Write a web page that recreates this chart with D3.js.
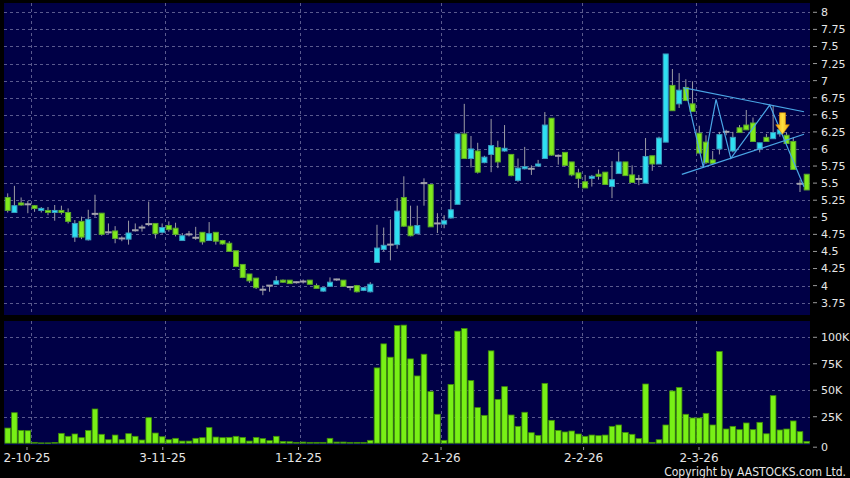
<!DOCTYPE html>
<html><head><meta charset="utf-8">
<script src="https://cdn.jsdelivr.net/npm/d3@7/dist/d3.min.js"></script>
<style>html,body{margin:0;padding:0;background:#000;}svg{display:block;}</style>
</head><body>
<svg id="c" width="850" height="478"></svg>
<script>
// ---- data ----
const openP  = [5.29,5.07,5.21,5.19,5.17,5.10,5.10,5.07,5.10,5.07, 4.71,4.94,4.67,5.05,5.06,4.78,4.80,4.69,4.68,4.81, 4.85,4.90,4.91,4.78,4.88,4.84,4.66,4.75,4.70,4.78, 4.66,4.78,4.66,4.62,4.51,4.31,4.17,4.11,3.94,4.00, 4.02,4.08,4.08,4.05,4.06,4.08,4.00,3.92,3.99,4.09, 4.08,3.98,4.00,3.93,3.91,4.34,4.53,4.60,4.60,5.29, 4.87,4.76,5.50,5.48,4.91,4.90,4.99,5.19,6.22,5.86, 5.97,5.80,5.92,6.02,5.97,5.92,5.54,5.71,5.71,5.75, 5.86,6.45,5.90,5.95,5.81,5.65,5.52,5.57,5.63,5.66, 5.45,5.64,5.81,5.62,5.56,5.50,5.90,5.78,6.10,6.93, 6.66,6.90,6.66,6.23,6.10,5.84,6.00,6.25,5.97,6.31, 6.35,6.38,6.00,6.17,6.15,6.22,6.20,6.11,5.49,5.63];
const highP  = [5.35,5.46,5.29,5.24,5.18,5.15,5.15,5.18,5.17,5.13, 4.96,5.01,5.11,5.33,5.06,4.91,4.87,4.72,4.95,4.91, 4.89,5.23,4.91,4.91,4.94,4.92,4.77,4.80,4.86,4.78, 4.93,4.78,4.67,4.65,4.51,4.31,4.17,4.11,4.00,4.00, 4.14,4.09,4.08,4.06,4.09,4.08,4.03,3.98,4.12,4.10, 4.08,3.99,4.01,3.98,4.05,4.89,4.85,4.97,5.28,5.60, 5.17,5.17,5.57,5.48,5.06,5.03,5.40,6.22,6.66,6.19, 6.09,5.90,6.44,6.12,6.35,5.92,5.86,6.03,5.76,5.84, 6.54,6.45,5.92,5.95,5.81,5.71,5.62,5.62,5.70,5.66, 5.82,5.96,5.81,5.76,5.62,6.16,5.90,6.18,7.39,7.17, 7.11,7.02,6.99,6.34,6.20,5.97,6.25,6.28,6.25,6.35, 6.57,6.46,6.09,6.22,6.64,6.30,6.24,6.17,5.55,5.63];
const lowP   = [5.07,5.07,5.17,5.06,5.08,5.07,5.03,4.95,5.04,4.91, 4.64,4.68,4.66,5.01,4.73,4.76,4.62,4.65,4.60,4.79, 4.79,4.87,4.69,4.76,4.79,4.72,4.66,4.72,4.67,4.60, 4.66,4.60,4.60,4.50,4.27,4.11,4.04,3.95,3.86,3.91, 4.02,4.04,4.03,4.03,4.03,4.02,3.96,3.91,3.98,4.07, 3.98,3.93,3.90,3.92,3.90,4.34,4.50,4.37,4.54,4.86, 4.72,4.75,5.17,4.86,4.77,4.84,4.98,5.19,5.86,5.73, 5.64,5.79,5.66,5.72,5.96,5.60,5.52,5.70,5.62,5.74, 5.86,5.90,5.77,5.74,5.60,5.43,5.43,5.45,5.55,5.48, 5.28,5.64,5.61,5.51,5.47,5.50,5.68,5.78,6.10,6.56, 6.60,6.70,6.55,5.94,5.78,5.77,5.92,6.20,5.95,6.24, 6.28,6.11,5.95,6.11,6.15,6.18,6.08,5.70,5.37,5.40];
const closeP = [5.10,5.17,5.18,5.19,5.13,5.13,5.07,5.10,5.07,4.94, 4.91,4.71,4.97,5.05,4.75,4.78,4.69,4.69,4.77,4.81, 4.85,4.90,4.76,4.85,4.82,4.75,4.73,4.75,4.70,4.64, 4.76,4.65,4.61,4.50,4.28,4.12,4.07,3.97,3.94,4.00, 4.07,4.05,4.03,4.05,4.06,4.02,3.96,3.97,4.05,4.09, 3.99,3.98,3.91,3.97,4.02,4.55,4.59,4.60,5.09,4.87, 4.73,4.88,5.50,4.86,4.91,4.95,5.11,6.22,5.86,6.00, 5.66,5.88,6.05,5.81,6.01,5.61,5.72,5.74,5.71,5.78, 6.35,5.91,5.90,5.76,5.62,5.57,5.43,5.60,5.60,5.48, 5.55,5.81,5.61,5.51,5.56,5.89,5.78,6.16,7.39,6.56, 6.86,6.71,6.55,5.94,5.80,5.79,6.21,6.25,6.17,6.24, 6.28,6.11,6.09,6.11,6.24,6.28,6.08,5.70,5.49,5.40];
const volumeK = [14.3,28.8,12.1,11.8,0.8,0.3,0.3,0.6,9.3,6.5, 8.7,5.2,12.1,32.3,8.4,3.3,7.7,3.3,9.0,6.5, 3.0,24.1,9.6,6.1,3.3,4.6,2.0,2.0,4.6,5.2, 14.7,5.8,5.2,5.5,6.5,5.5,2.0,5.5,4.3,2.4, 6.5,1.7,1.4,0.8,1.1,0.8,0.8,0.8,4.6,1.1, 1.1,0.8,0.8,0.8,2.7,71.1,93.8,81.2,111.2,111.5, 79.6,63.5,84.0,48.7,27.3,2.7,55.5,105.8,108.3,59.1, 33.6,26.3,87.2,41.4,53.4,26.6,15.9,29.2,9.9,7.4, 56.5,21.6,12.1,10.6,11.5,8.7,6.5,7.7,7.1,7.7, 15.9,17.2,10.2,8.4,4.3,55.9,0.8,3.3,17.2,49.3, 52.7,27.3,23.8,23.8,28.2,17.2,86.6,13.4,15.9,12.8, 19.1,12.8,19.7,8.9,44.9,12.5,13.4,21.0,10.9,1.7];

const dateTickIdx    = [4, 24, 44, 65, 86, 103];
const dateTickLabels = ["2-10-25","3-11-25","1-12-25","2-1-26","2-2-26","2-3-26"];
const priceTicks  = [3.75,4,4.25,4.5,4.75,5,5.25,5.5,5.75,6,6.25,6.5,6.75,7,7.25,7.5,7.75,8];
const volumeTicks = [0,25,50,75,100];

// drawn annotations (index, price)
const upperTrend = [[100.6,6.897],[118.6,6.545]];
const lowerTrend = [[100.4,5.629],[118.6,6.215]];
const zigzag     = [[100.9,6.888],[103.6,5.732],[105.5,6.727],[107.7,5.863],[113.5,6.643],[118.6,5.448]];
const arrowAt    = [115.4, 6.215];

// ---- layout ----
const svg = d3.select("#c");
const plotL = 4, plotR = 810;
const priceTop = 3, priceBot = 315, volTop = 321, volBot = 445;
const n = closeP.length;

const x  = d3.scaleLinear().domain([0, n-1]).range([7.7, 806.7]);
const xl = d3.scaleLinear().domain([3.5, 102.5]).range([27, 699]);
const yP = d3.scaleLinear().domain([3.75, 8]).range([302.7, 12.3]);
const yV = d3.scaleLinear().domain([0, 100]).range([443.2, 337.3]);

svg.append("rect").attr("width",850).attr("height",478).attr("fill","#000");
svg.append("rect").attr("x",plotL).attr("y",priceTop).attr("width",plotR-plotL).attr("height",priceBot-priceTop).attr("fill","#000046");
svg.append("rect").attr("x",plotL).attr("y",volTop).attr("width",plotR-plotL).attr("height",volBot-volTop).attr("fill","#000046");

const gridC = "#5a5a8e";
const grid = svg.append("g").attr("stroke",gridC).attr("stroke-width",1).attr("stroke-dasharray","3,3").attr("shape-rendering","crispEdges");
priceTicks.forEach(t => grid.append("line").attr("x1",plotL).attr("x2",plotR).attr("y1",Math.round(yP(t))+0.5).attr("y2",Math.round(yP(t))+0.5));
volumeTicks.filter(t=>t>0).forEach(t => grid.append("line").attr("x1",plotL).attr("x2",plotR).attr("y1",Math.round(yV(t))+0.5).attr("y2",Math.round(yV(t))+0.5));
dateTickIdx.forEach(i => {
  const gx = Math.round(x(i-0.5))+0.5;
  grid.append("line").attr("x1",gx).attr("x2",gx).attr("y1",priceTop).attr("y2",priceBot);
  grid.append("line").attr("x1",gx).attr("x2",gx).attr("y1",volTop).attr("y2",volBot);
});

// ---- candles ----
const bw = 5;
const cg = svg.append("g");
for (let i=0;i<n;i++){
  const cx = x(i);
  cg.append("line").attr("x1",cx).attr("x2",cx).attr("y1",yP(highP[i])).attr("y2",yP(lowP[i]))
    .attr("stroke","#9c9ca4").attr("stroke-width",1);
  const o=openP[i], c=closeP[i];
  if (Math.abs(o-c) < 0.005){
    cg.append("line").attr("x1",cx-3.3).attr("x2",cx+3.3).attr("y1",yP(o)).attr("y2",yP(o))
      .attr("stroke","#a4a4ac").attr("stroke-width",2);
  } else {
    const up = c > o;
    const top = yP(Math.max(o,c)), bot = yP(Math.min(o,c));
    cg.append("rect").attr("x",cx-bw/2).attr("y",top).attr("width",bw).attr("height",Math.max(1,bot-top))
      .attr("fill", up ? "#2ee0f2" : "#80ea1c")
      .attr("stroke", up ? "#3a9cc0" : "#5aa82a").attr("stroke-width",1);
  }
}

// ---- annotations ----
const lineGen = d3.line().x(d=>x(d[0])).y(d=>yP(d[1]));
const ag = svg.append("g").attr("fill","none").attr("stroke","#4aa6e6").attr("stroke-width",1.2);
[upperTrend, lowerTrend, zigzag].forEach(p => ag.append("path").attr("d", lineGen(p)));

const defs = svg.append("defs");
const gr = defs.append("linearGradient").attr("id","ag").attr("x1","0").attr("x2","1").attr("y1","0").attr("y2","0");
gr.append("stop").attr("offset","0").attr("stop-color","#f0a010");
gr.append("stop").attr("offset","0.5").attr("stop-color","#ffe040");
gr.append("stop").attr("offset","1").attr("stop-color","#f0a010");
const ax = x(arrowAt[0]), ay = yP(arrowAt[1]);
svg.append("path")
  .attr("d", `M${ax-3},${ay-21.5} L${ax+3},${ay-21.5} L${ax+3},${ay-9.5} L${ax+6.8},${ay-9.5} L${ax},${ay} L${ax-6.8},${ay-9.5} L${ax-3},${ay-9.5} Z`)
  .attr("fill","url(#ag)").attr("stroke","#e09000").attr("stroke-width",0.6);

// ---- volume ----
const vg = svg.append("g");
for (let i=0;i<n;i++){
  const top = yV(volumeK[i]);
  vg.append("rect").attr("x",x(i)-2.8).attr("y",top).attr("width",5.6).attr("height",Math.max(0.5,yV(0)-top))
    .attr("fill","#78f016").attr("stroke","#3f8c08").attr("stroke-width",0.8);
}

// ---- axes text ----
const font = "DejaVu Sans, sans-serif";
const axg = svg.append("g").attr("font-family",font).attr("font-size",11).attr("fill","#e6e6e6");
priceTicks.forEach(t => {
  const yy = yP(t);
  axg.append("line").attr("x1",813).attr("x2",817).attr("y1",yy).attr("y2",yy).attr("stroke","#9a9a9a");
  axg.append("text").attr("x",821).attr("y",yy).attr("dy","0.36em").text(String(t));
});
volumeTicks.forEach(t => {
  const yy = yV(t) + (t===0 ? 4 : 0);
  axg.append("line").attr("x1",813).attr("x2",817).attr("y1",yy).attr("y2",yy).attr("stroke","#9a9a9a");
  axg.append("text").attr("x",821).attr("y",yy).attr("dy","0.36em").text(t===0 ? "0" : t+"K");
});
dateTickIdx.forEach((i,k) => {
  const tx = xl(i-0.5);
  axg.append("line").attr("x1",tx).attr("x2",tx).attr("y1",447).attr("y2",450).attr("stroke","#9a9a9a");
  axg.append("text").attr("x",tx).attr("y",458).attr("dy","0.36em").attr("text-anchor","middle")
    .attr("font-size",12).text(dateTickLabels[k]);
});
svg.append("text").attr("x",846).attr("y",472).attr("dy","0.36em").attr("text-anchor","end")
  .attr("font-family","DejaVu Sans Condensed, DejaVu Sans, sans-serif").attr("font-size",12).attr("fill","#e6e6e6")
  .text("Copyright by AASTOCKS.com Ltd.");
</script>
</body></html>
